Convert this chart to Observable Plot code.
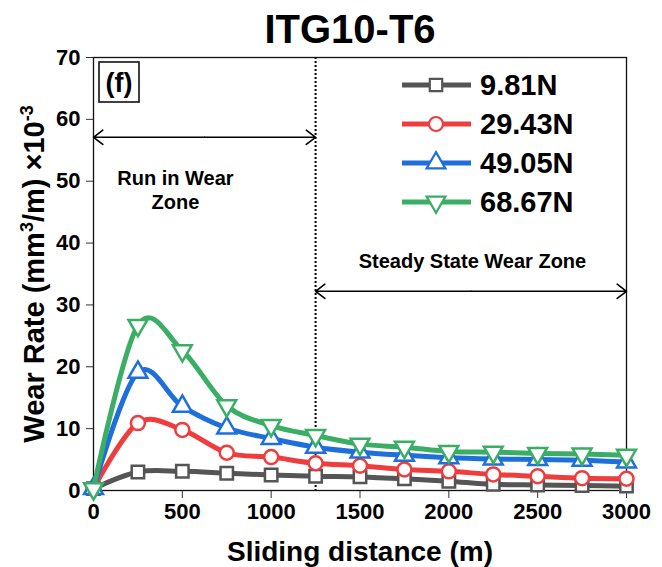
<!DOCTYPE html>
<html><head><meta charset="utf-8">
<script src="https://cdn.jsdelivr.net/npm/d3@7"></script>
<script src="https://cdn.jsdelivr.net/npm/@observablehq/plot@0.6"></script>
<style>body{margin:0;background:#fff}</style>
</head><body><div id="chart"></div>
<script>
const distance = [0, 250, 500, 750, 1000, 1250, 1500, 1750, 2000, 2250, 2500, 2750, 3000];
const loads = ["9.81N", "29.43N", "49.05N", "68.67N"];
const wear981  = [0.3, 3.0, 3.1, 2.8, 2.5, 2.3, 2.2, 1.9, 1.5, 1.0, 0.9, 0.8, 0.7];
const wear2943 = [0.3, 10.9, 9.8, 6.1, 5.4, 4.4, 4.0, 3.4, 3.1, 2.6, 2.3, 2.0, 1.9];
const wear4905 = [0.3, 19.1, 13.6, 10.1, 8.4, 7.0, 6.2, 5.7, 5.3, 5.1, 5.0, 4.9, 4.6];
const wear6867 = [0.3, 26.7, 22.6, 13.7, 10.5, 8.9, 7.5, 7.0, 6.3, 6.2, 6.0, 5.9, 5.7];
const xTicks = [0, 500, 1000, 1500, 2000, 2500, 3000];
const yTicks = [0, 10, 20, 30, 40, 50, 60, 70];

const series = [wear981, wear2943, wear4905, wear6867];
const colors = ["#555555", "#EF3D3D", "#1F6FDB", "#3AAE64"];

// annotations (data coordinates)
const zoneBoundary = 1250;
const zoneArrows = [{from: 0, to: 1250, y: 57.1}, {from: 1250, to: 3000, y: 32.2}];
const zoneLabels = [{x: 461, y: 48.7, text: "Run in Wear\nZone"}, {x: 2133, y: 37.2, text: "Steady State Wear Zone"}];

const sqrt3 = Math.sqrt(3);
const triangleDown = {
  draw(ctx, size) {
    const y = -Math.sqrt(size / (sqrt3 * 3));
    ctx.moveTo(0, -y * 2);
    ctx.lineTo(-sqrt3 * y, y);
    ctx.lineTo(sqrt3 * y, y);
    ctx.closePath();
  }
};
const symbols = [d3.symbolSquare, d3.symbolCircle, d3.symbolTriangle, triangleDown];

const rows = series.map((s, j) => distance.map((d, i) => ({distance: d, wear: s[i], load: loads[j]})));

const font = "'Liberation Sans', Arial, Helvetica, sans-serif";

const arrowHalves = zoneArrows.flatMap(a => {
  const mid = (a.from + a.to) / 2;
  return [{x1: mid, x2: a.from, y: a.y}, {x1: mid, x2: a.to, y: a.y}];
});

const marks = [
  Plot.axisX({ticks: xTicks, tickFormat: d => String(d), tickSize: 8, tickPadding: 5, fontSize: 22, fontWeight: "bold", label: null, stroke: "#333"}),
  Plot.axisY({ticks: yTicks, tickFormat: d => String(d), tickSize: 7, tickPadding: 6, fontSize: 22, fontWeight: "bold", label: null, stroke: "#333"}),
  Plot.frame({stroke: "#111", strokeWidth: 1.3}),
  Plot.ruleX([zoneBoundary], {stroke: "#000", strokeWidth: 2, strokeDasharray: "2,2"}),
  Plot.arrow(arrowHalves, {x1: "x1", x2: "x2", y1: "y", y2: "y", stroke: "#000", strokeWidth: 1.6, headLength: 11, headAngle: 75}),
  Plot.text(zoneLabels, {x: "x", y: "y", text: "text", fontSize: 20, fontWeight: "bold", lineHeight: 1.22, fill: "#000"}),
];
rows.forEach((r, j) => {
  marks.push(Plot.line(r, {x: "distance", y: "wear", stroke: colors[j], strokeWidth: 5, curve: "cardinal"}));
  marks.push(Plot.dot(r, {x: "distance", y: "wear", symbol: symbols[j], r: 7, stroke: colors[j], strokeWidth: 2.5, fill: "white"}));
});
marks.push(
  Plot.text(["ITG10-T6"], {frameAnchor: "top", lineAnchor: "middle", dx: -10, dy: -27, fontSize: 40, fontWeight: "bold", fill: "#000"}),
  Plot.text(["Sliding distance (m)"], {frameAnchor: "bottom", lineAnchor: "middle", dy: 62, fontSize: 28, fontWeight: "bold", fill: "#000"})
);

const chart = Plot.plot({
  width: 662,
  height: 567,
  marginLeft: 93,
  marginRight: 36,
  marginTop: 57,
  marginBottom: 77,
  style: {fontFamily: font, background: "#fff", color: "#000"},
  x: {domain: [0, 3000]},
  y: {domain: [0, 70]},
  marks
});

document.getElementById("chart").appendChild(chart);

const svg = d3.select(chart);

// Y axis label with superscripts
const yl = svg.append("text")
  .attr("transform", "translate(34,274) rotate(-90)")
  .attr("text-anchor", "middle").attr("dy", "0.35em")
  .attr("font-family", font).attr("font-size", 29).attr("font-weight", "bold").attr("fill", "#000");
yl.append("tspan").text("Wear Rate (mm");
yl.append("tspan").attr("font-size", 18).attr("dy", -11).text("3");
yl.append("tspan").attr("dy", 11).text("/m) ×10");
yl.append("tspan").attr("font-size", 18).attr("dy", -11).text("-3");

// Legend
const lg = svg.append("g").attr("font-family", font);
loads.forEach((l, j) => {
  const y = 85 + j * 39;
  lg.append("line").attr("x1", 402).attr("x2", 471).attr("y1", y).attr("y2", y)
    .attr("stroke", colors[j]).attr("stroke-width", 5);
  lg.append("path").attr("d", d3.symbol(symbols[j], 49 * Math.PI)())
    .attr("transform", `translate(436,${y})`)
    .attr("fill", "white").attr("stroke", colors[j]).attr("stroke-width", 2.2);
  lg.append("text").attr("x", 480).attr("y", y).attr("dy", "0.36em").attr("text-anchor", "start")
    .attr("font-size", 29).attr("font-weight", "bold").attr("fill", "#000").text(l);
});

// Panel tag
const tag = svg.append("g").attr("font-family", font);
tag.append("rect").attr("x", 99).attr("y", 62).attr("width", 40).attr("height", 40)
  .attr("fill", "white").attr("stroke", "#111").attr("stroke-width", 1.6);
tag.append("text").attr("x", 119).attr("y", 92).attr("text-anchor", "middle")
  .attr("font-size", 27).attr("font-weight", "bold").attr("fill", "#000").text("(f)");
</script>
</body></html>
